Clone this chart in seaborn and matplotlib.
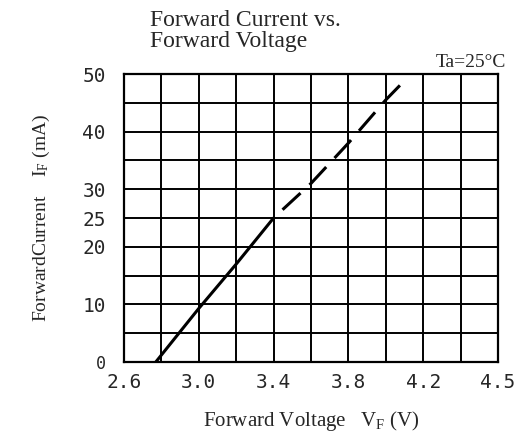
import pandas as pd
import seaborn as sns
import matplotlib.pyplot as plt

# Curve
vf_solid = [2.77, 3.0, 3.2, 3.4]
if_solid = [0, 9.3, 17.0, 25.0]
vf_dash = [3.4, 3.6, 3.8, 4.0, 4.09]
if_dash = [25.0, 31.0, 38.0, 45.5, 48.5]

x_grid = [2.6, 2.8, 3.0, 3.2, 3.4, 3.6, 3.8, 4.0, 4.2, 4.4, 4.6]
x_tick_labels = {2.6: '2.6', 3.0: '3.0', 3.4: '3.4', 3.8: '3.8', 4.2: '4.2', 4.6: '4.5'}
y_grid = [0, 5, 10, 15, 20, 25, 30, 35, 40, 45, 50]
y_tick_labels = [0, 10, 20, 25, 30, 40, 50]

solid = pd.DataFrame({'VF': vf_solid, 'IF': if_solid})
dash = pd.DataFrame({'VF': vf_dash, 'IF': if_dash})

sns.set_style('white')
plt.rcParams['font.family'] = ['Liberation Serif', 'DejaVu Serif']

fig = plt.figure(figsize=(5.16, 4.32), dpi=100)
ax = fig.add_axes([0.2403, 0.162, 0.7247, 0.6667])

sns.lineplot(x='VF', y='IF', data=solid, color='black', linewidth=2.2, ax=ax)
sns.lineplot(x='VF', y='IF', data=dash, color='black', linewidth=2.2, ax=ax,
             linestyle=(8, (8, 4)))

ax.set_xlim(2.6, 4.6)
ax.set_ylim(0, 50)

# grid every 0.2 V and 5 mA, labels only on some lines
ax.set_xticks(x_grid)
ax.set_xticklabels([x_tick_labels.get(round(v, 1), '') for v in x_grid],
                   family='DejaVu Sans Mono', fontsize=14)
ax.set_yticks(y_grid)
ax.set_yticklabels([str(v) if v in y_tick_labels else '' for v in y_grid],
                   family='DejaVu Sans Mono', fontsize=14)
ax.grid(True, color='black', linewidth=1.4)
ax.set_axisbelow(True)
ax.tick_params(axis='x', length=0, pad=8)
ax.tick_params(axis='y', length=0, pad=13)

# the "0" is a bit smaller, tucked above the 2.6
ax.get_yticklabels()[0].set_fontsize(12)

for s in ax.spines.values():
    s.set_color('black')
    s.set_linewidth(1.6)

ax.set_xlabel('Forward Voltage   $\\mathregular{V_F}$ (V)', fontsize=15, labelpad=12)
ax.set_ylabel('ForwardCurrent    $\\mathregular{I_F}$ (mA)', fontsize=14, labelpad=22)

fig.text(0.29, 0.978, 'Forward Current vs.\nForward Voltage', fontsize=17,
         ha='left', va='top', linespacing=1.0)
fig.text(0.98, 0.835, 'Ta=25°C', fontsize=14, ha='right', va='bottom')

fig.savefig('out.png', dpi=100)
